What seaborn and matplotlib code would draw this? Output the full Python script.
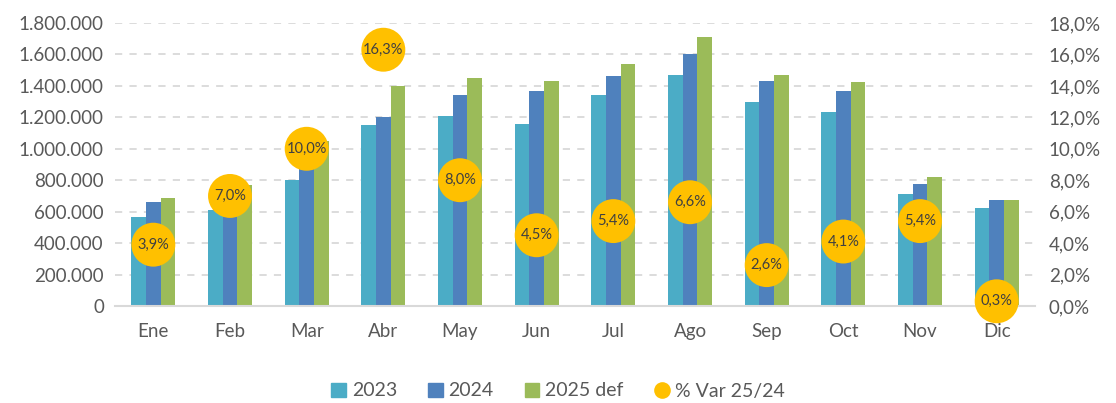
import matplotlib
matplotlib.use("Agg")
import matplotlib.pyplot as plt
from matplotlib.ticker import FuncFormatter
from matplotlib.patches import Patch
from matplotlib.lines import Line2D
import seaborn as sns
import pandas as pd

months = ["Ene", "Feb", "Mar", "Abr", "May", "Jun", "Jul", "Ago", "Sep", "Oct", "Nov", "Dic"]
v2023 = [566000, 611000, 801000, 1151000, 1209000, 1158000, 1342000, 1469000, 1298000, 1234000, 712000, 623000]
v2024 = [662000, 720000, 955000, 1202000, 1342000, 1368000, 1463000, 1603000, 1431000, 1368000, 776000, 674000]
v2025 = [687000, 770000, 1050000, 1399000, 1450000, 1430000, 1542000, 1708000, 1469000, 1424000, 818000, 676000]
var_pct = [3.9, 7.0, 10.0, 16.3, 8.0, 4.5, 5.4, 6.6, 2.6, 4.1, 5.4, 0.3]

series = ["2023", "2024", "2025 def"]
colors = ["#4BACC6", "#4F81BD", "#9BBB59"]
var_color = "#FFC000"

df = pd.DataFrame({
    "mes": months * 3,
    "serie": [s for s in series for _ in months],
    "valor": v2023 + v2024 + v2025,
})
dvar = pd.DataFrame({"mes": months, "var": var_pct})

plt.rcParams["font.family"] = ["Lato", "DejaVu Sans"]

fig = plt.figure(figsize=(11.16, 4.03), dpi=100)
ax = fig.add_axes([115 / 1116, 97 / 403, 920 / 1116, 283 / 403])

sns.barplot(data=df, x="mes", y="valor", hue="serie", palette=colors,
            width=0.575, gap=0, ax=ax, legend=False, saturation=1)

ax.set_ylim(0, 1800000)
ax.set_yticks(range(0, 1800001, 200000))
ax.yaxis.set_major_formatter(FuncFormatter(lambda v, p: f"{int(v):,}".replace(",", ".")))
ax.set_xlim(-0.5, 11.5)
ax.set_xlabel("")
ax.set_ylabel("")
ax.grid(axis="y", color="#D9D9D9", linestyle=(0, (4, 4)), linewidth=1.3)
ax.set_axisbelow(True)
for s in ["top", "right", "left"]:
    ax.spines[s].set_visible(False)
ax.spines["bottom"].set_color("#D9D9D9")
ax.spines["bottom"].set_linewidth(1.5)
ax.tick_params(axis="both", length=0, labelsize=13.5, colors="#595959")
ax.tick_params(axis="x", pad=12)
ax.tick_params(axis="y", pad=8)

ax2 = ax.twinx()
sns.scatterplot(data=dvar, x="mes", y="var", color=var_color, s=1000,
                edgecolor="none", ax=ax2, legend=False, zorder=5, clip_on=False)
for i, v in enumerate(var_pct):
    ax2.text(i, v, f"{v:.1f}%".replace(".", ","), ha="center", va="center",
             fontsize=10.5, color="#404040", zorder=6)
ax2.set_ylim(0, 18)
ax2.set_yticks(range(0, 19, 2))
ax2.yaxis.set_major_formatter(FuncFormatter(lambda v, p: f"{v:.1f}%".replace(".", ",")))
ax2.set_ylabel("")
for s in ax2.spines.values():
    s.set_visible(False)
ax2.tick_params(axis="y", length=0, labelsize=13.5, colors="#595959", pad=10)

handles = [Patch(color=c, label=s) for s, c in zip(series, colors)]
handles.append(Line2D([], [], marker="o", linestyle="", markersize=12,
                      markerfacecolor=var_color, markeredgecolor="none", label="% Var 25/24"))
fig.legend(handles=handles, loc="center", bbox_to_anchor=(0.5, 12 / 403),
           ncol=4, frameon=False, fontsize=14, handlelength=0.75, handleheight=0.75,
           handletextpad=0.3, columnspacing=1.6, labelcolor="#595959")

fig.savefig("out.png", dpi=100)
